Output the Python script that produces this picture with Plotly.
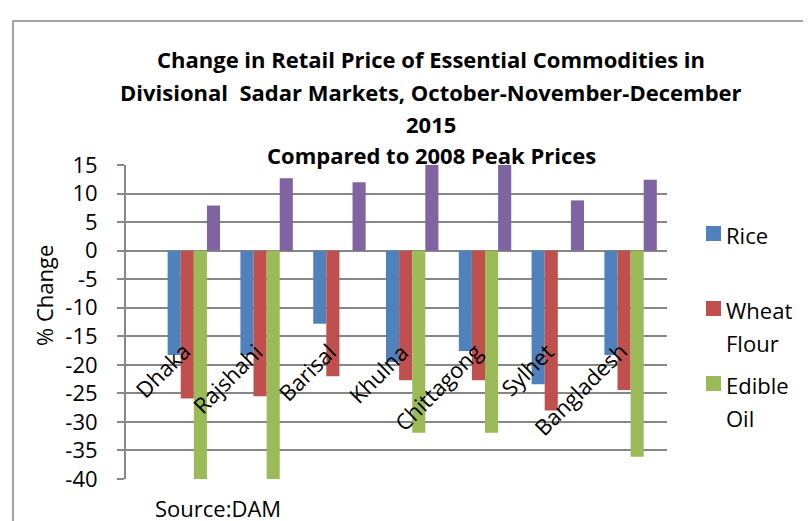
import plotly.graph_objects as go

categories = ["Dhaka", "Rajshahi", "Barisal", "Khulna", "Chittagong", "Sylhet", "Bangladesh"]
rice = [-18.3, -18.3, -12.8, -19.5, -17.6, -23.4, -18.3]
wheat_flour = [-25.9, -25.5, -22.0, -22.7, -22.7, -28.0, -24.4]
edible_oil = [-41.0, -41.0, None, -31.9, -31.9, None, -36.1]
fourth_series = [7.9, 12.7, 12.0, 15.6, 15.6, 8.8, 12.4]

series_names = ["Rice", "Wheat Flour", "Edible Oil", "Other"]
legend_lines = [["Rice"], ["Wheat", "Flour"], ["Edible", "Oil"]]

title_lines = [
    "Change in Retail Price of Essential Commodities in",
    "Divisional  Sadar Markets, October-November-December",
    "2015",
    "Compared to 2008 Peak Prices",
]
y_title = "% Change"
source_text = "Source:DAM"
tick_values = [15, 10, 5, 0, -5, -10, -15, -20, -25, -30, -35, -40]
tick_labels = ["15", "10", "5", "0", "-5", "-10", "-15", "-20", "-25", "-30", "-35", "-40"]

W, H = 811, 521
L, R, T, B = 118, 659, 157, 471  # plot area in pixels


def xp(px):
    return (px - L) / (R - L)


def yp(py):
    return (B - py) / (B - T)


FONT = "'Open Sans', Lato, sans-serif"
GRID = "#878787"
COLORS = ["#4F81BD", "#C0504D", "#9BBB59", "#8064A2"]

fig = go.Figure()
for name, vals, col in zip(series_names, [rice, wheat_flour, edible_oil, fourth_series], COLORS):
    fig.add_trace(go.Bar(
        x=categories, y=vals, name=name,
        marker=dict(color=col, line=dict(width=0)), showlegend=False,
    ))

annotations = []
shapes = []

# title
title_y = [51, 84, 116, 147]
for txt, ty in zip(title_lines, title_y):
    annotations.append(dict(
        text=f"<b>{txt}</b>", xref="paper", yref="paper", x=xp(423), y=yp(ty),
        xanchor="center", yanchor="middle", showarrow=False,
        font=dict(family=FONT, size=22, color="black"),
    ))

# category labels (rotated)
for c in categories:
    annotations.append(dict(
        text=c, xref="x", yref="y", x=c, y=-14.6, xshift=5,
        xanchor="right", yanchor="top", textangle=-45, showarrow=False,
        font=dict(family=FONT, size=22, color="black"),
    ))

# axis title
annotations.append(dict(
    text=y_title, xref="paper", yref="paper", x=xp(36), y=yp(288),
    xanchor="center", yanchor="middle", textangle=-90, showarrow=False,
    font=dict(family=FONT, size=22, color="black"),
))

# source note
annotations.append(dict(
    text=source_text, xref="paper", yref="paper", x=xp(145), y=yp(500),
    xanchor="left", yanchor="middle", showarrow=False,
    font=dict(family=FONT, size=22, color="black"),
))

# legend (three visible entries, as in the reference)
leg_top = [218, 293, 368]
for lines, col, top in zip(legend_lines, COLORS, leg_top):
    shapes.append(dict(
        type="rect", xref="paper", yref="paper",
        x0=xp(698), x1=xp(713), y0=yp(top + 15), y1=yp(top),
        line=dict(width=0), fillcolor=col,
    ))
    for k, line in enumerate(lines):
        annotations.append(dict(
            text=line, xref="paper", yref="paper", x=xp(716), y=yp(top + 9 + 32.5 * k),
            xanchor="left", yanchor="middle", showarrow=False,
            font=dict(family=FONT, size=22, color="black"),
        ))

# chart border
shapes.append(dict(
    type="rect", xref="paper", yref="paper",
    x0=xp(5), x1=xp(806), y0=yp(540), y1=yp(13),
    line=dict(color="#878787", width=1.5), fillcolor="rgba(0,0,0,0)", layer="below",
))

fig.update_layout(
    width=W, height=H,
    margin=dict(l=L, r=W - R, t=T, b=H - B, pad=0),
    paper_bgcolor="white", plot_bgcolor="white",
    barmode="group", bargap=0.28, bargroupgap=0,
    font=dict(family=FONT, size=22, color="black"),
    showlegend=False,
    xaxis=dict(showticklabels=False, showgrid=False, zeroline=False, showline=False, ticks=""),
    yaxis=dict(
        range=[-40, 15], tickmode="array", tickvals=tick_values, ticktext=tick_labels,
        showgrid=True, gridcolor=GRID, gridwidth=2,
        zeroline=True, zerolinecolor=GRID, zerolinewidth=2,
        showline=True, linecolor=GRID, linewidth=2,
        ticks="outside", ticklen=7, tickcolor=GRID, tickwidth=2,
        ticklabelstandoff=15,
        tickfont=dict(family=FONT, size=22, color="black"),
    ),
    annotations=annotations,
    shapes=shapes,
)

fig.write_html("out.html")
